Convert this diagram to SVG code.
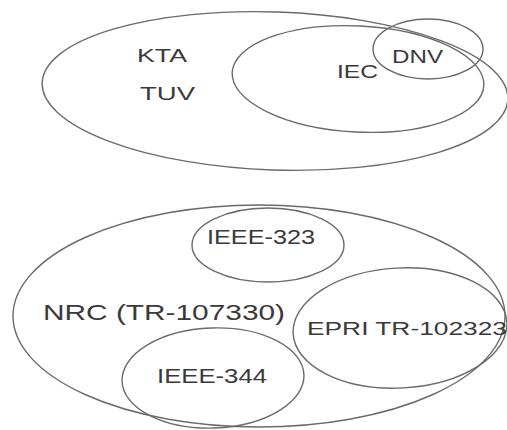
<svg xmlns="http://www.w3.org/2000/svg" width="507" height="430" viewBox="0 0 507 430">
<style>
.e{fill:none;stroke:#6a6a6a;stroke-width:1.4}
.t{font-family:"Liberation Sans",Arial,sans-serif;fill:#3a3a3a}
</style>
<rect width="507" height="430" fill="#ffffff"/>
<g id="ellipse-outer-top"><ellipse class="e" cx="275" cy="91" rx="233" ry="79" transform="rotate(2 275 91)"/>
<text class="t" x="137" y="62" font-size="19" textLength="50" lengthAdjust="spacingAndGlyphs">KTA</text>
<text class="t" x="140" y="100" font-size="19" textLength="55" lengthAdjust="spacingAndGlyphs">TUV</text></g>
<g id="iec"><ellipse class="e" cx="358" cy="79" rx="126" ry="53" transform="rotate(3 358 79)"/>
<text class="t" x="337" y="78" font-size="19" textLength="41" lengthAdjust="spacingAndGlyphs">IEC</text></g>
<g id="dnv"><ellipse class="e" cx="428" cy="49" rx="55" ry="30"/>
<text class="t" x="392" y="63" font-size="19" textLength="51" lengthAdjust="spacingAndGlyphs">DNV</text></g>
<g id="nrc"><ellipse class="e" cx="259" cy="316" rx="246" ry="111"/>
<text class="t" x="43" y="320" font-size="22" textLength="242" lengthAdjust="spacingAndGlyphs">NRC (TR-107330)</text></g>
<g id="ieee323"><ellipse class="e" cx="268" cy="245" rx="76" ry="37"/>
<text class="t" x="207" y="244" font-size="20" textLength="108" lengthAdjust="spacingAndGlyphs">IEEE-323</text></g>
<g id="epri"><ellipse class="e" cx="400" cy="328" rx="107" ry="60" transform="rotate(-3 400 328)"/>
<text class="t" x="307" y="335" font-size="19" textLength="200" lengthAdjust="spacingAndGlyphs">EPRI TR-102323</text></g>
<g id="ieee344"><ellipse class="e" cx="213" cy="378" rx="91" ry="50" transform="rotate(-2 213 378)"/>
<text class="t" x="157" y="383" font-size="20" textLength="110" lengthAdjust="spacingAndGlyphs">IEEE-344</text></g>
<g id="connectors"></g>
</svg>
